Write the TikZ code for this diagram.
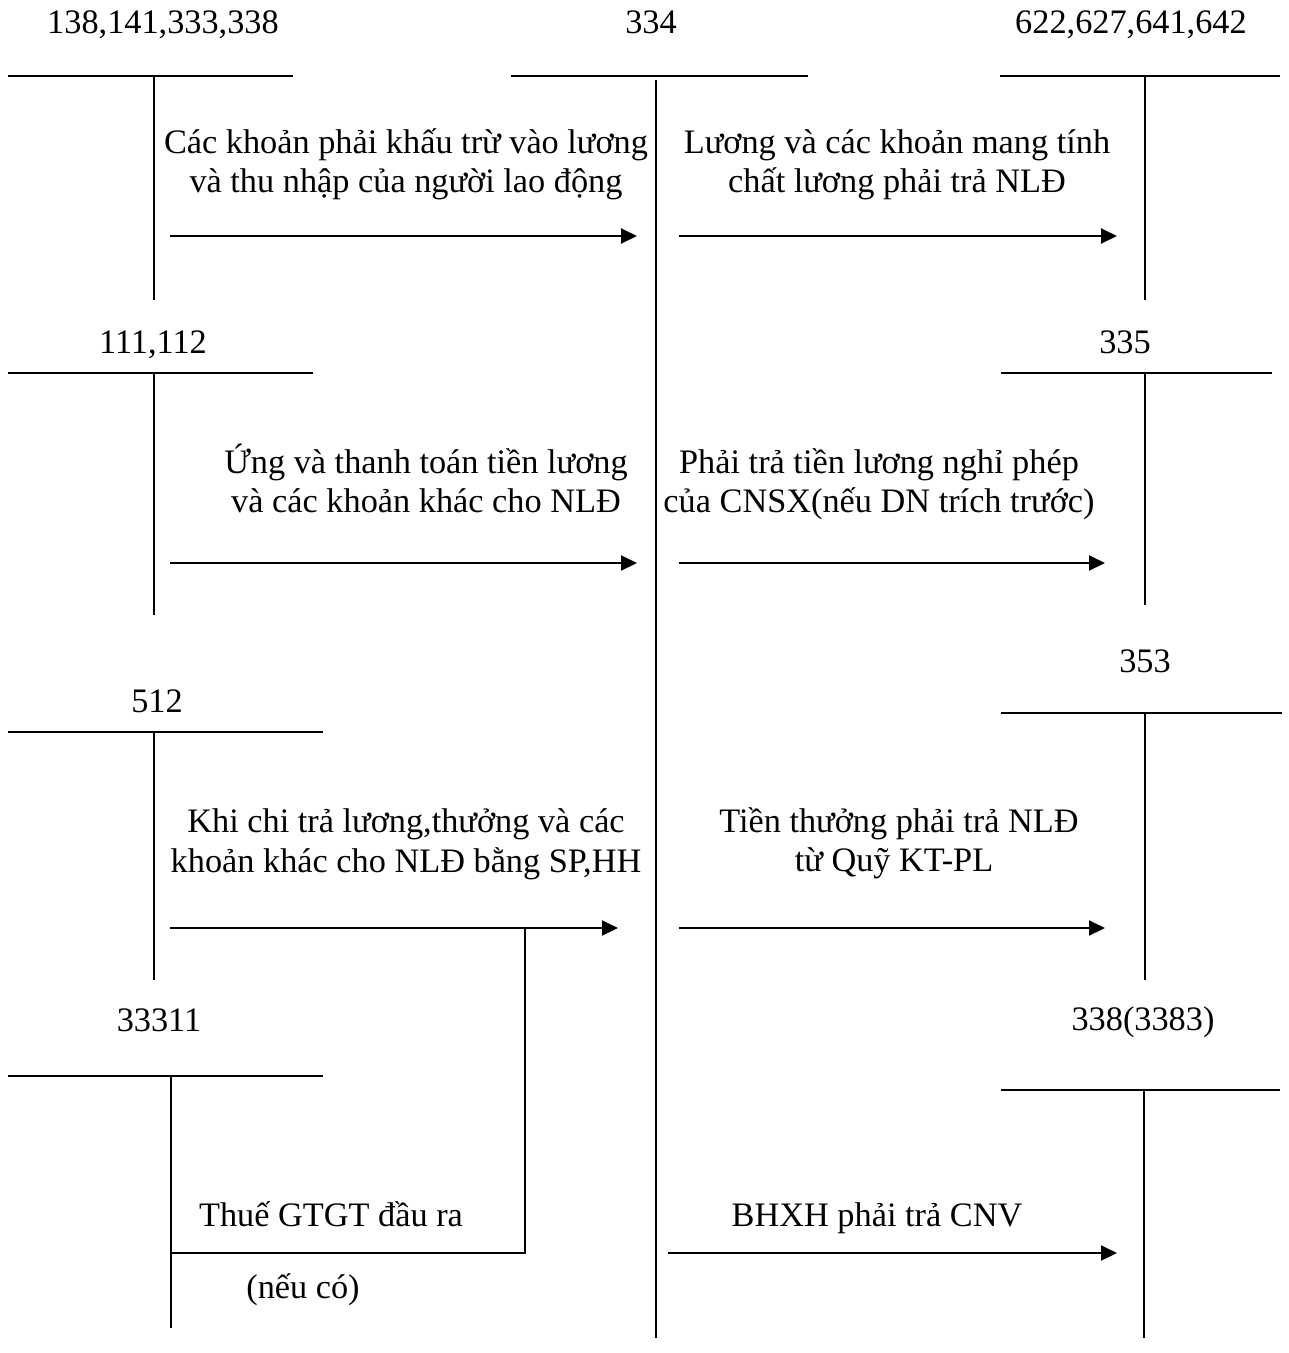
\documentclass[tikz,border=0pt]{standalone}
\usepackage{fontspec}
\setmainfont{Liberation Serif}
\usetikzlibrary{arrows.meta}
\begin{document}
\begin{tikzpicture}[x=1pt,y=-1pt,
  lbl/.style={anchor=base, inner sep=0pt, font=\fontsize{34.3}{40}\selectfont},
  tline/.style={line width=2pt},
  flow/.style={line width=2pt, -{Triangle[length=16pt,width=15pt]}}]
\useasboundingbox (0,0) rectangle (1289,1353);

% ---- account labels
\node[lbl] (lA) at (163,33) {138,141,333,338};
\node[lbl] (lB) at (651,33) {334};
\node[lbl] (lC) at (1131,33) {622,627,641,642};
\node[lbl] (lD) at (153,353) {111,112};
\node[lbl] (lE) at (1125,353) {335};
\node[lbl] (lF) at (1145,672) {353};
\node[lbl] (lG) at (157,712) {512};
\node[lbl] (lH) at (159,1031) {33311};
\node[lbl] (lI) at (1143,1030) {338(3383)};

% ---- T accounts
\coordinate (A1) at (8,76);   \coordinate (A2) at (293,76);  \coordinate (A3) at (154,76);  \coordinate (A4) at (154,300);
\coordinate (B1) at (511,76); \coordinate (B2) at (808,76);  \coordinate (B3) at (656,80);  \coordinate (B4) at (656,1338);
\coordinate (C1) at (1000,76);\coordinate (C2) at (1280,76); \coordinate (C3) at (1145,76); \coordinate (C4) at (1145,300);
\coordinate (D1) at (8,373);  \coordinate (D2) at (313,373); \coordinate (D3) at (154,373); \coordinate (D4) at (154,615);
\coordinate (E1) at (1001,373);\coordinate (E2) at (1272,373);\coordinate (E3) at (1145,373);\coordinate (E4) at (1145,605);
\coordinate (F1) at (1001,713);\coordinate (F2) at (1282,713);\coordinate (F3) at (1145,713);\coordinate (F4) at (1145,980);
\coordinate (G1) at (8,732);  \coordinate (G2) at (323,732); \coordinate (G3) at (154,732); \coordinate (G4) at (154,980);
\coordinate (H1) at (8,1076); \coordinate (H2) at (323,1076);\coordinate (H3) at (171,1076);\coordinate (H4) at (171,1328);
\coordinate (I1) at (1001,1090);\coordinate (I2) at (1280,1090);\coordinate (I3) at (1144,1090);\coordinate (I4) at (1144,1338);

\foreach \k in {A,B,C,D,E,F,G,H,I}{
  \draw[tline] (\k1) -- (\k2);
  \draw[tline] (\k3) -- (\k4);
}

% ---- arrow end points
\coordinate (s1) at (170,236);  \coordinate (e1) at (637,236);
\coordinate (s2) at (679,236);  \coordinate (e2) at (1117,236);
\coordinate (s3) at (170,563);  \coordinate (e3) at (637,563);
\coordinate (s4) at (679,563);  \coordinate (e4) at (1105,563);
\coordinate (s5) at (170,928);  \coordinate (e5) at (618,928);
\coordinate (s6) at (679,928);  \coordinate (e6) at (1105,928);
\coordinate (s7) at (668,1253); \coordinate (e7) at (1117,1253);
\coordinate (b1) at (525,928);  \coordinate (b2) at (525,1253); \coordinate (b3) at (171,1253);

\draw[flow] (s1) -- (e1);
\draw[flow] (s2) -- (e2);
\draw[flow] (s3) -- (e3);
\draw[flow] (s4) -- (e4);
\draw[flow] (s5) -- (e5);
\draw[flow] (s6) -- (e6);
\draw[flow] (s7) -- (e7);
\draw[tline] (b1) -- (b2) -- (b3);

% ---- texts
\node[lbl] (t1a) at (406,153) {Các khoản phải khấu trừ vào lương};
\node[lbl] (t1b) at (406,192) {và thu nhập của người lao động};
\node[lbl] (t2a) at (897,153) {Lương và các khoản mang tính};
\node[lbl] (t2b) at (897,192) {chất lương phải trả NLĐ};
\node[lbl] (t3a) at (426,473) {Ứng và thanh toán tiền lương};
\node[lbl] (t3b) at (426,512) {và các khoản khác cho NLĐ};
\node[lbl] (t4a) at (879,473) {Phải trả tiền lương nghỉ phép};
\node[lbl] (t4b) at (879,512) {của CNSX(nếu DN trích trước)};
\node[lbl] (t5a) at (406,832) {Khi chi trả lương,thưởng và các};
\node[lbl] (t5b) at (406,872) {khoản khác cho NLĐ bằng SP,HH};
\node[lbl] (t6a) at (899,832) {Tiền thưởng phải trả NLĐ};
\node[lbl] (t6b) at (894,871) {từ Quỹ KT-PL};
\node[lbl] (t7)  at (877,1226) {BHXH phải trả CNV};
\node[lbl] (t8a) at (331,1226) {Thuế GTGT đầu ra};
\node[lbl] (t8b) at (303,1298) {(nếu có)};
\end{tikzpicture}
\end{document}
